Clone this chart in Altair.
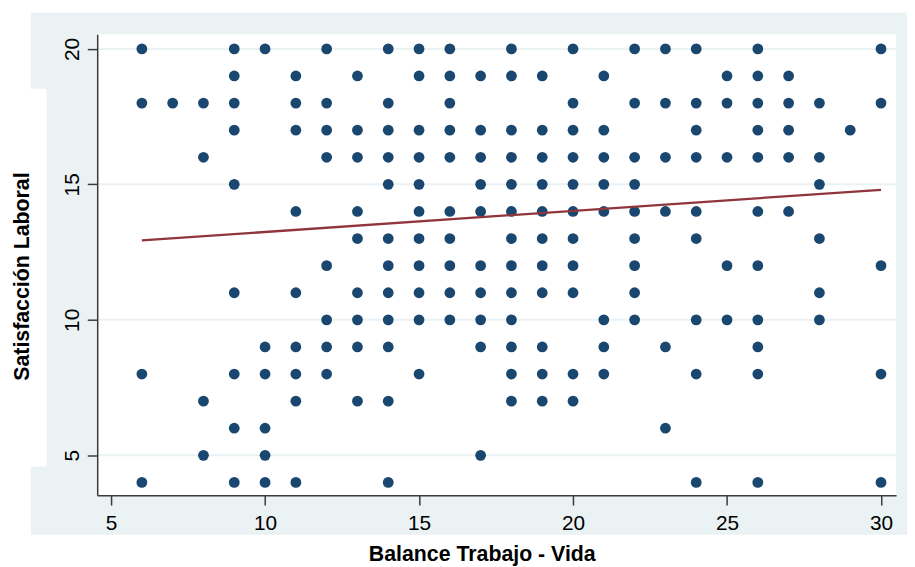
import altair as alt
import pandas as pd

# ---- data ----
x_ticks = [5, 10, 15, 20, 25, 30]
y_ticks = [5, 10, 15, 20]

# Satisfacción Laboral values observed for each Balance Trabajo - Vida value
satisfaccion_por_balance = {
    6: [20, 18, 8, 4],
    7: [18],
    8: [18, 16, 7, 5],
    9: [20, 19, 18, 17, 15, 11, 8, 6, 4],
    10: [20, 9, 8, 6, 5, 4],
    11: [19, 18, 17, 14, 11, 9, 8, 7, 4],
    12: [20, 18, 17, 16, 12, 10, 9, 8],
    13: [19, 17, 16, 14, 13, 11, 10, 9, 7],
    14: [20, 18, 17, 16, 15, 13, 12, 11, 10, 9, 7, 4],
    15: [20, 19, 17, 16, 15, 14, 13, 12, 11, 10, 8],
    16: [20, 19, 18, 17, 16, 14, 13, 12, 11, 10],
    17: [19, 17, 16, 15, 14, 12, 11, 10, 9, 5],
    18: [20, 19, 17, 16, 15, 14, 13, 12, 11, 10, 9, 8, 7],
    19: [19, 17, 16, 15, 14, 13, 12, 11, 9, 8, 7],
    20: [20, 18, 17, 16, 15, 14, 13, 12, 11, 8, 7],
    21: [19, 17, 16, 15, 14, 10, 9, 8],
    22: [20, 18, 16, 15, 14, 13, 12, 11, 10],
    23: [20, 18, 16, 14, 9, 6],
    24: [20, 18, 17, 16, 14, 13, 10, 8, 4],
    25: [19, 18, 16, 12, 10],
    26: [20, 19, 18, 17, 16, 14, 12, 10, 9, 8, 4],
    27: [19, 18, 17, 16, 14],
    28: [18, 16, 15, 13, 11, 10],
    29: [17],
    30: [20, 18, 12, 8, 4],
}

# fitted line end points
fit_x = [6, 30]
fit_y = [12.93, 14.80]

# ---- tables ----
rows = [{"balance": b, "satisfaccion": s}
        for b, vals in satisfaccion_por_balance.items() for s in vals]
pts = pd.DataFrame(rows)
fit = pd.DataFrame({"balance": fit_x, "satisfaccion": fit_y})
grid = pd.DataFrame({"satisfaccion": y_ticks})
one = pd.DataFrame({"a": [0]})

W, H = 806, 465
FONT = "Liberation Sans, Arial, Helvetica, sans-serif"
LIGHT = "#EAF2F3"
AXIS_COL = "#3a3a3a"

xscale = alt.Scale(domain=[4.55, 30.49], nice=False, zero=False)
yscale = alt.Scale(domain=[3.53, 20.54], nice=False, zero=False)

x_axis = alt.Axis(values=x_ticks, tickSize=10, labelFontSize=21, labelPadding=8,
                  labelFont=FONT, labelColor="#000000", labelFlush=False,
                  labelOverlap=False, grid=False, domainColor=AXIS_COL,
                  tickColor=AXIS_COL, domainWidth=1.5, tickWidth=1.5,
                  title="Balance Trabajo - Vida", titleFont=FONT, titleFontSize=21.5,
                  titleFontWeight="bold", titleColor="#000000", titleX=388,
                  titleY=66, titleBaseline="alphabetic", titleAlign="center",
                  zindex=1)
y_axis = alt.Axis(values=y_ticks, tickSize=10, labelFontSize=21, labelPadding=5,
                  labelAngle=270, labelAlign="center", labelBaseline="bottom",
                  labelFont=FONT, labelColor="#000000", labelOverlap=False,
                  grid=False, domainColor=AXIS_COL, tickColor=AXIS_COL,
                  domainWidth=1.5, tickWidth=1.5,
                  title="Satisfacción Laboral", titleFont=FONT, titleFontSize=21.5,
                  titleFontWeight="bold", titleColor="#000000", titleAngle=270,
                  titleX=-69, titleY=244, titleBaseline="alphabetic",
                  titleAlign="center", zindex=1)

# ---- background decoration (Stata-like outer region) ----
outer = alt.Chart(one).mark_rect(color=LIGHT).encode(
    x=alt.value(-67), x2=alt.value(W + 20), y=alt.value(-22), y2=alt.value(505))
ytitle_cut = alt.Chart(one).mark_rect(color="white").encode(
    x=alt.value(-100), x2=alt.value(-51), y=alt.value(55), y2=alt.value(436))
plot_bg = alt.Chart(one).mark_rect(color="white").encode(
    x=alt.value(0), x2=alt.value(W), y=alt.value(0), y2=alt.value(H))

gridlines = alt.Chart(grid).mark_rule(color=LIGHT, strokeWidth=2).encode(
    y=alt.Y("satisfaccion:Q", scale=yscale, axis=y_axis),
    x=alt.value(0), x2=alt.value(W))

points = alt.Chart(pts).mark_circle(color="#1A476F", size=118, opacity=1).encode(
    x=alt.X("balance:Q", scale=xscale, axis=x_axis),
    y=alt.Y("satisfaccion:Q", scale=yscale, axis=y_axis))

line = alt.Chart(fit).mark_line(color="#90353B", strokeWidth=2.3).encode(
    x=alt.X("balance:Q", scale=xscale, axis=x_axis),
    y=alt.Y("satisfaccion:Q", scale=yscale, axis=y_axis))

chart = alt.layer(outer, ytitle_cut, plot_bg, gridlines, points, line).properties(
    width=W, height=H,
    autosize=alt.AutoSizeParams(type="none"),
    padding={"left": 90, "top": 24, "right": 11, "bottom": 70},
    background="white",
).configure_view(stroke=None)

chart.save("out.html", embed_options={"renderer": "svg", "actions": False})
